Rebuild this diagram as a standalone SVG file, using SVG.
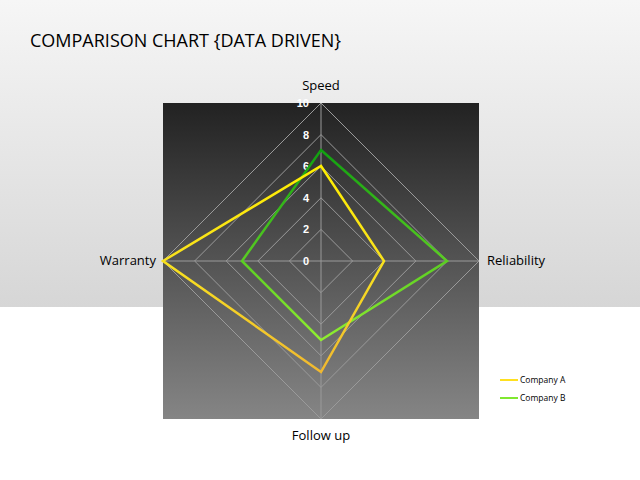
<svg xmlns="http://www.w3.org/2000/svg" width="640" height="480" viewBox="0 0 640 480">
<defs>
<linearGradient id="bg" x1="0" y1="0" x2="0" y2="1"><stop offset="0" stop-color="#f6f6f6"/><stop offset="1" stop-color="#d6d6d6"/></linearGradient>
<linearGradient id="plot" x1="0" y1="0" x2="0" y2="1"><stop offset="0" stop-color="#222"/><stop offset="1" stop-color="#858585"/></linearGradient>
<linearGradient id="ga" gradientUnits="userSpaceOnUse" x1="0" y1="166" x2="0" y2="372"><stop offset="0" stop-color="#ffee00"/><stop offset="0.5" stop-color="#f8e020"/><stop offset="1" stop-color="#f0b830"/></linearGradient>
<linearGradient id="gb" gradientUnits="userSpaceOnUse" x1="0" y1="150" x2="0" y2="340"><stop offset="0" stop-color="#10a010"/><stop offset="1" stop-color="#90ee30"/></linearGradient>
<style>
.t{font-family:"Open Sans","Liberation Sans",sans-serif;fill:#000}
.n{font-family:"Liberation Sans",sans-serif;font-size:11px;font-weight:bold;fill:#fff;text-anchor:end}
.g{fill:none;stroke:#9a9a9a;stroke-width:1}
</style>
</defs>
<rect width="640" height="307" fill="url(#bg)"/>
<rect y="307" width="640" height="173" fill="#fff"/>
<text class="t" x="30" y="47" font-size="18">COMPARISON CHART {DATA DRIVEN}</text>
<g id="plot-area">
<rect x="163" y="103" width="316" height="316" fill="url(#plot)"/>
<g class="g">
<polygon points="321,229.4 352.6,261 321,292.6 289.4,261"/>
<polygon points="321,197.8 384.2,261 321,324.2 257.8,261"/>
<polygon points="321,166.2 415.8,261 321,355.8 226.2,261"/>
<polygon points="321,134.6 447.4,261 321,387.4 194.6,261"/>
<polygon points="321,103 479,261 321,419 163,261"/>
<line x1="321" y1="103" x2="321" y2="419"/>
<line x1="163" y1="261" x2="479" y2="261"/>
</g>
<text class="n" x="309" y="265">0</text>
<text class="n" x="309" y="233">2</text>
<text class="n" x="309" y="202">4</text>
<text class="n" x="309" y="170">6</text>
<text class="n" x="309" y="139">8</text>
<text class="n" x="309" y="107">10</text>
</g>
<g id="connectors">
<polygon id="company-b" points="321,150 447,261 321,340 242,261" fill="none" stroke="url(#gb)" stroke-width="2.5"/>
<polygon id="company-a" points="321,166 384,261 321,372 163,261" fill="none" stroke="url(#ga)" stroke-width="2.5"/>
</g>
<g id="labels">
<text class="t" x="321" y="90" font-size="13" text-anchor="middle">Speed</text>
<text class="t" x="487" y="265" font-size="13">Reliability</text>
<text class="t" x="321" y="440" font-size="13" text-anchor="middle">Follow up</text>
<text class="t" x="156" y="265" font-size="13" text-anchor="end">Warranty</text>
</g>
<g id="legend">
<line x1="500" y1="380" x2="518" y2="380" stroke="#ffe020" stroke-width="2"/>
<text class="t" x="520" y="383" font-size="8.5">Company A</text>
<line x1="500" y1="398" x2="518" y2="398" stroke="#80e830" stroke-width="2"/>
<text class="t" x="520" y="401" font-size="8.5">Company B</text>
</g>
</svg>
